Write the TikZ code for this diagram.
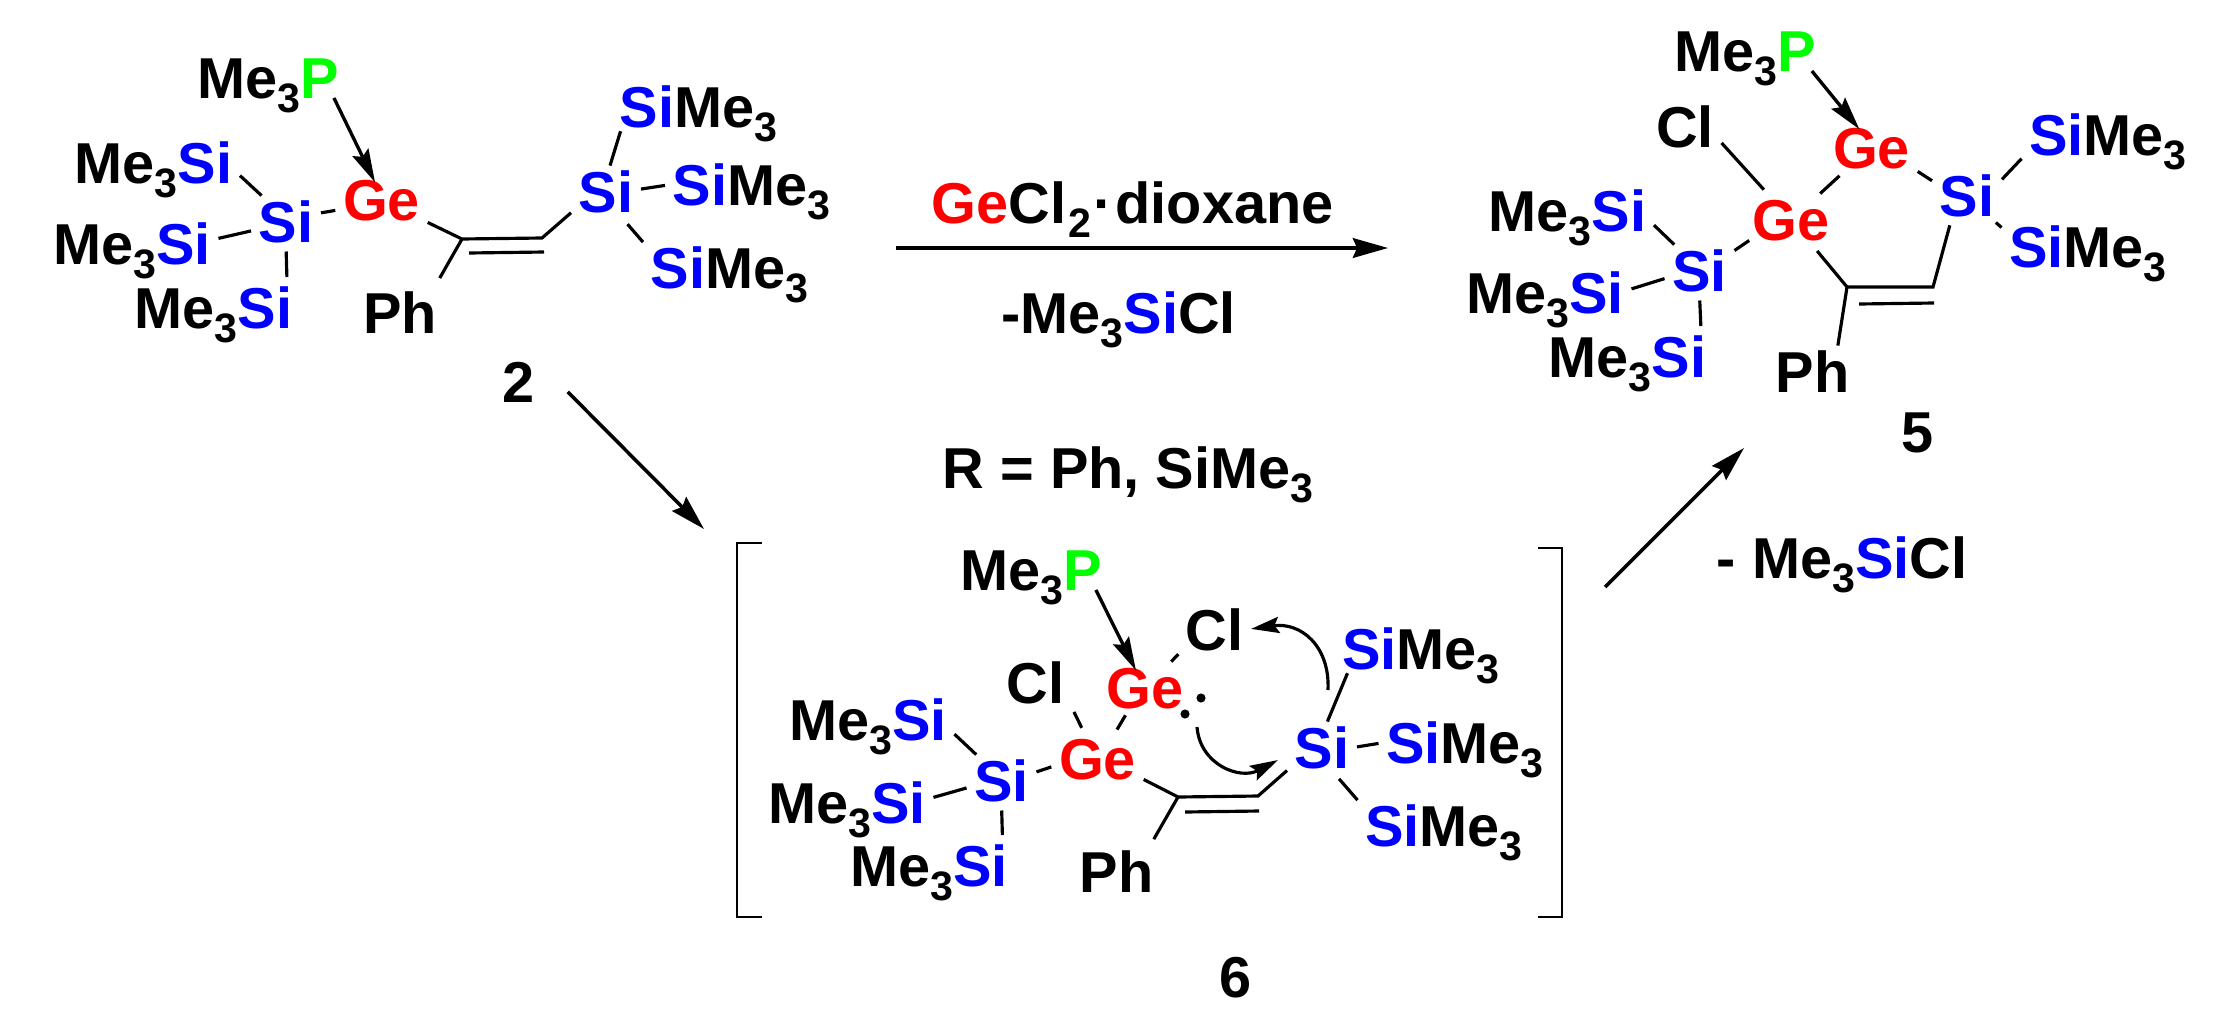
\documentclass[tikz,border=0pt]{standalone}
\usepackage{fontspec}
\setmainfont{Liberation Sans}
\usetikzlibrary{arrows.meta}
\newcommand{\subnum}[1]{\raisebox{-4pt}{\fontsize{11.7}{12}\selectfont #1}}
\newcommand{\siatom}{\textcolor{blue}{Si}}
\newcommand{\geatom}{\textcolor{red}{Ge}}
\newcommand{\patom}{\textcolor{green}{P}}
\newcommand{\methree}{Me\subnum{3}}
\newcommand{\tmsl}{\methree\siatom}
\newcommand{\tmsr}{\siatom\methree}

\begin{document}
\begin{tikzpicture}[x=0.01cm,y=-0.01cm]
 \tikzset{chem/.style={anchor=base,text height=12pt,text depth=0pt,inner xsep=2pt,inner ysep=1pt,font=\bfseries\fontsize{16.4}{18}\selectfont}}
 \tikzset{bond/.style={line width=.9pt}}
 \tikzset{dative/.style={line width=.95pt,shorten >=-2.8pt,-{Stealth[length=9.5pt,width=5pt,inset=1.4pt]}}}
 \tikzset{curly/.style={line width=.9pt,-{Stealth[length=8pt,width=4.6pt,inset=1.3pt]}}}
 \tikzset{rxn/.style={line width=1pt,-{Stealth[length=10pt,width=5.6pt,inset=1.2pt]}}}
 \tikzset{lonedot/.style={circle,fill,inner sep=0pt,minimum size=2.6pt}}
 \useasboundingbox (0,0) rectangle (2228,1024);

 % compound 2
 \node[chem] (mep2) at (268.5,98) {\methree\patom};
 \node[chem] (ge2) at (381.5,220) {\geatom};
 \node[chem] (si2a) at (286,242) {\siatom};
 \node[chem] (tms2a) at (153.5,183) {\tmsl};
 \node[chem] (tms2b) at (132,264) {\tmsl};
 \node[chem] (tms2c) at (213.5,328) {\tmsl};
 \node[chem] (ph2) at (400,333) {Ph};
 \node[chem] (si2b) at (606,212) {\siatom};
 \node[chem] (tms2d) at (698.5,127) {\tmsr};
 \node[chem] (tms2e) at (751.5,205) {\tmsr};
 \node[chem] (tms2f) at (729.5,288) {\tmsr};
 \node[chem] (num2) at (518.5,402) {2};
 \coordinate (c2a) at (462,239);
 \coordinate (c2b) at (542,238);

 \draw[dative] ([xshift=-3.7pt]mep2.base east) to (ge2.113);
 \draw[bond] (si2a.134) to (tms2a.-9);
 \draw[bond] (si2a.196) to (tms2b.3);
 \draw[bond,shorten <=1.5pt,shorten >=1.3pt] (si2a.270) to (tms2c.19);
 \draw[bond] (si2a.13) to (ge2.194);
 \draw[bond] (ge2.-27) -- (c2a) -- (c2b) -- (si2b.212);
 \draw[bond] ([shift={(7,14)}]c2a) to ([shift={(2,14)}]c2b);
 \draw[bond,shorten >=2.8pt] (c2a) to (ph2.36);
 \draw[bond] (si2b.81) to (tms2d.198);
 \draw[bond] (si2b.3) to (tms2e.181);
 \draw[bond,shorten <=3pt] (si2b.-60) to (tms2f.164);

 % reagents on the top arrow
 \coordinate (arrtail) at (896,248);
 \coordinate (arrtip) at (1388,248);
 \node[chem] (gecl) at (1132.5,223) {\geatom Cl\kern.7pt\subnum{2}\kern.7pt·\kern.7pt dioxane};
 \node[chem] (loss1) at (1118.5,333) {-\tmsl Cl};
 \node[chem] (rdef) at (1128,488) {R = Ph, Si\methree};
 \draw[rxn] (arrtail) to (arrtip);

 % compound 5
 \node[chem] (mep5) at (1745,71) {\methree\patom};
 \node[chem] (ge5a) at (1871.5,168) {\geatom};
 \node[chem] (ge5b) at (1791,240) {\geatom};
 \node[chem] (cl5) at (1685,147) {Cl};
 \node[chem] (si5a) at (1699.5,291) {\siatom};
 \node[chem] (tms5a) at (1567.5,231) {\tmsl};
 \node[chem] (tms5b) at (1545,313) {\tmsl};
 \node[chem] (tms5c) at (1627.5,377) {\tmsl};
 \node[chem] (si5b) at (1967,216) {\siatom};
 \node[chem] (tms5d) at (2108,155) {\tmsr};
 \node[chem] (tms5e) at (2088,267) {\tmsr};
 \node[chem] (ph5) at (1812.5,392) {Ph};
 \node[chem] (num5) at (1918,452) {5};
 \coordinate (c5a) at (1847,287);
 \coordinate (c5b) at (1933,287);

 \draw[dative] ([xshift=-3.3pt]mep5.base east) to (ge5a.126);
 \draw[bond] (si5a.135) to (tms5a.-10);
 \draw[bond] (si5a.194) to (tms5b.2);
 \draw[bond,shorten <=1.5pt,shorten >=1.3pt] (si5a.270) to (tms5c.19);
 \draw[bond,shorten >=-1.5pt] (si5a.29) to (ge5b.208);
 \draw[bond,shorten >=1.5pt] (cl5.-25) to (ge5b.133);
 \draw[bond,shorten >=1.5pt] (ge5b.41) to (ge5a.222);
 \draw[bond] (ge5a.-28) to (si5b.158);
 \draw[bond] (si5b.24) to (tms5d.196);
 \draw[bond,shorten <=1pt] (si5b.-44) to (tms5e.168);
 \draw[bond,shorten <=1.5pt] (si5b.238) -- (c5b) -- (c5a);
 \draw[bond,shorten <=2.5pt] (ge5b.-51) to (c5a);
 \draw[bond] ([shift={(12,17)}]c5a) to ([shift={(1,16)}]c5b);
 \draw[bond] (c5a) to (ph5.45);

 % intermediate 6
 \draw[bond,line width=.75pt] (762,543) -| (737,917) -- (762,917);
 \draw[bond,line width=.75pt] (1538,548) -| (1562,917) -- (1538,917);
 \node[chem] (mep6) at (1031.5,590) {\methree\patom};
 \node[chem] (ge6a) at (1145,708) {\geatom};
 \node[chem] (ge6b) at (1097.5,779) {\geatom};
 \node[chem] (cl6a) at (1214.5,650) {Cl};
 \node[chem] (cl6b) at (1035.5,703) {Cl};
 \node[chem] (si6a) at (1001.5,801) {\siatom};
 \node[chem] (tms6a) at (868,740) {\tmsl};
 \node[chem] (tms6b) at (847,823) {\tmsl};
 \node[chem] (tms6c) at (929,886) {\tmsl};
 \node[chem] (ph6) at (1116.5,892) {Ph};
 \node[chem] (si6b) at (1322,768) {\siatom};
 \node[chem] (tms6d) at (1421,669) {\tmsr};
 \node[chem] (tms6e) at (1465,763) {\tmsr};
 \node[chem] (tms6f) at (1444,846) {\tmsr};
 \node[chem] (num6) at (1235.5,997) {6};
 \node[lonedot] (dot6a) at (1201,698) {};
 \node[lonedot] (dot6b) at (1185,714) {};
 \coordinate (c6a) at (1178,797);
 \coordinate (c6b) at (1258,796);
 \coordinate (curla) at (1328,690);
 \coordinate (curlb) at (1197,727);
 \coordinate (curlc) at (1278,760);

 \draw[dative] ([xshift=-4pt]mep6.base east) to (ge6a.118);
 \draw[bond] (si6a.135) to (tms6a.-10);
 \draw[bond] (si6a.193) to (tms6b.3);
 \draw[bond,shorten <=1.5pt,shorten >=1.3pt] (si6a.270) to (tms6c.19);
 \draw[bond] (si6a.13) to (ge6b.191);
 \draw[bond,shorten <=1.5pt,shorten >=1.5pt] (ge6b.118) to (cl6b.-35);
 \draw[bond,shorten <=1pt,shorten >=1pt] (ge6b.55) to (ge6a.235);
 \draw[bond] (ge6a.44) to (cl6a.215);
 \draw[bond] (ge6b.-25) -- (c6a) -- (c6b) -- (si6b.214);
 \draw[bond] ([shift={(7,15)}]c6a) to ([shift={(1,15)}]c6b);
 \draw[bond,shorten >=2.1pt] (c6a) to (ph6.37);
 \draw[bond] (si6b.78) to (tms6d.199);
 \draw[bond] (si6b.0) to (tms6e.181);
 \draw[bond,shorten <=2.5pt] (si6b.-66) to (tms6f.164);
 \draw[curly] (curla) .. controls (1330,645) and (1300,622) .. (cl6a.east);
 \draw[curly] (curlb) .. controls (1200,765) and (1240,780) .. (curlc);

 % reaction arrows round 6
 \coordinate (tipa) at (704,529);
 \coordinate (taila) at (1605,587);
 \coordinate (tipb) at (1744,448);
 \node[chem] (loss2) at (1842,578) {- \tmsl Cl};
 \draw[rxn] ([shift={(25.5,11)}]num2.east) to (tipa);
 \draw[rxn] (taila) to (tipb);
\end{tikzpicture}
\end{document}
